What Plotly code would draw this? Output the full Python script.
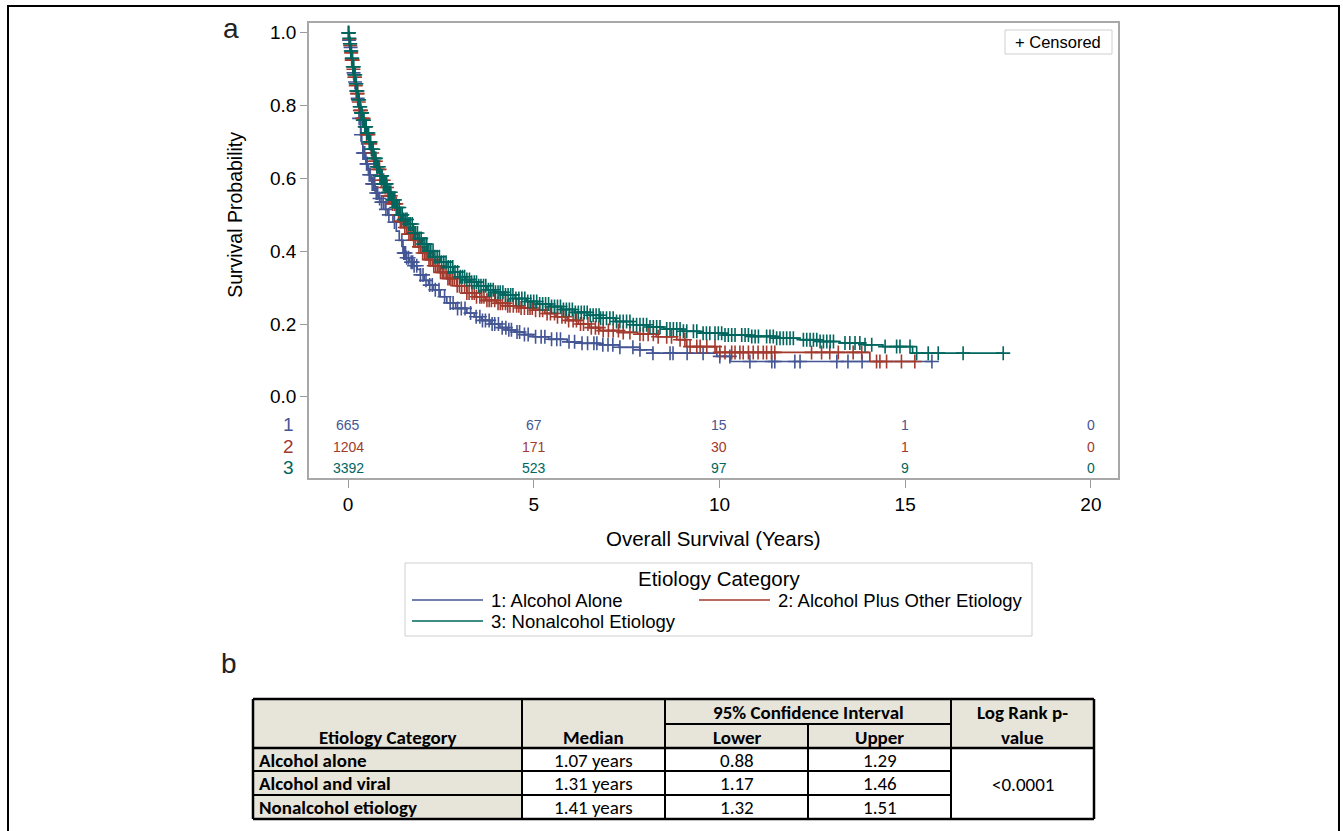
import numpy as np
import plotly.graph_objects as go

# ---------------- data ----------------
groups = ["1", "2", "3"]
group_names = ["1: Alcohol Alone", "2: Alcohol Plus Other Etiology", "3: Nonalcohol Etiology"]
colors = ["#445694", "#A23A2E", "#01665E"]

# Kaplan-Meier step points (years, survival probability)
t1 = [0, 0.025, 0.05, 0.09, 0.13, 0.17, 0.2, 0.24, 0.27, 0.3, 0.34, 0.37, 0.4, 0.48, 0.55, 0.64, 0.73,
      0.82, 0.9, 1.0, 1.07, 1.21, 1.3, 1.38, 1.48, 1.56, 1.65, 1.75, 1.86, 1.95, 2.05, 2.17, 2.29, 2.48,
      2.66, 2.9, 3.2, 3.4, 3.6, 3.85, 4.09, 4.3, 4.5, 4.75, 4.98, 5.4, 5.9, 6.3, 6.78, 7.3, 7.86, 8.2,
      9.93, 10.3, 15.75]
s1 = [1.0, 0.98, 0.96, 0.925, 0.89, 0.865, 0.84, 0.82, 0.80, 0.765, 0.72, 0.695, 0.67, 0.64, 0.61,
      0.585, 0.56, 0.545, 0.535, 0.515, 0.50, 0.48, 0.455, 0.43, 0.395, 0.382, 0.37, 0.36, 0.35, 0.335,
      0.32, 0.307, 0.294, 0.275, 0.258, 0.243, 0.23, 0.22, 0.21, 0.20, 0.19, 0.184, 0.178, 0.171, 0.165,
      0.158, 0.151, 0.147, 0.143, 0.136, 0.129, 0.12, 0.111, 0.097, 0.097]

t2 = [0, 0.025, 0.05, 0.075, 0.1, 0.13, 0.16, 0.2, 0.23, 0.27, 0.32, 0.38, 0.44, 0.5, 0.56, 0.63, 0.7,
      0.77, 0.9, 1.0, 1.09, 1.18, 1.31, 1.4, 1.5, 1.62, 1.75, 1.88, 2.0, 2.15, 2.3, 2.48, 2.66, 2.93, 3.2,
      3.45, 3.7, 4.0, 4.3, 4.65, 4.98, 5.3, 5.6, 5.9, 6.2, 6.5, 6.78, 7.3, 7.8, 8.3, 8.85, 9.12, 9.92,
      14.05, 15.3]
s2 = [1.0, 0.983, 0.965, 0.945, 0.925, 0.90, 0.878, 0.855, 0.833, 0.81, 0.787, 0.765, 0.742, 0.72,
      0.695, 0.67, 0.647, 0.625, 0.595, 0.575, 0.552, 0.53, 0.50, 0.482, 0.465, 0.447, 0.43, 0.412,
      0.395, 0.377, 0.36, 0.342, 0.325, 0.305, 0.285, 0.275, 0.265, 0.257, 0.25, 0.244, 0.238, 0.229,
      0.22, 0.21, 0.20, 0.19, 0.182, 0.177, 0.172, 0.165, 0.157, 0.138, 0.122, 0.097, 0.097]

t3 = [0, 0.025, 0.05, 0.075, 0.1, 0.13, 0.16, 0.2, 0.23, 0.27, 0.31, 0.35, 0.4, 0.45, 0.5, 0.56, 0.63,
      0.7, 0.77, 0.86, 0.95, 1.06, 1.18, 1.3, 1.41, 1.5, 1.6, 1.76, 1.88, 2.0, 2.15, 2.3, 2.48, 2.66, 2.83,
      3.0, 3.15, 3.3, 3.5, 3.74, 3.95, 4.2, 4.5, 4.8, 5.1, 5.44, 5.75, 6.1, 6.45, 6.78, 7.2, 7.68, 8.1,
      8.5, 9.0, 9.47, 10.1, 10.82, 11.5, 12.17, 12.7, 13.24, 13.9, 14.4, 15.2, 17.64]
s3 = [1.0, 0.985, 0.97, 0.95, 0.93, 0.907, 0.885, 0.86, 0.84, 0.816, 0.797, 0.78, 0.76, 0.742, 0.725,
      0.70, 0.68, 0.655, 0.632, 0.607, 0.585, 0.562, 0.541, 0.52, 0.50, 0.487, 0.475, 0.45, 0.435, 0.42,
      0.40, 0.385, 0.37, 0.357, 0.343, 0.33, 0.322, 0.315, 0.305, 0.294, 0.287, 0.28, 0.27, 0.262, 0.255,
      0.248, 0.24, 0.232, 0.224, 0.216, 0.207, 0.198, 0.192, 0.186, 0.18, 0.175, 0.17, 0.166, 0.161,
      0.157, 0.152, 0.148, 0.143, 0.138, 0.12, 0.12]

# censoring times (years)
c1 = [0.03, 0.07, 0.11, 0.15, 0.19, 0.22, 0.26, 0.3, 0.35, 0.4, 0.43, 0.45, 0.5, 0.52, 0.57, 0.6, 0.65,
      0.68, 0.72, 0.76, 0.8, 0.85, 0.9, 0.95, 1.02, 1.1, 1.25, 1.45, 1.5, 1.52, 1.55, 1.58, 1.63, 1.7,
      1.74, 1.78, 1.85, 1.95, 2.02, 2.1, 2.2, 2.27, 2.35, 2.45, 2.6, 2.75, 2.83, 2.95, 3.05, 3.15, 3.3,
      3.45, 3.55, 3.62, 3.7, 3.8, 3.88, 3.95, 4.05, 4.15, 4.25, 4.33, 4.4, 4.55, 4.62, 4.75, 4.85, 5.05,
      5.2, 5.3, 5.48, 5.62, 5.72, 5.95, 6.1, 6.3, 6.45, 6.62, 6.7, 6.86, 7.0, 7.13, 7.32, 7.67, 7.86, 8.21,
      8.67, 8.75, 9.13, 9.56, 10.01, 10.28, 10.82, 11.41, 11.49, 12.03, 12.17, 13.16, 13.46, 13.84, 15.72]
c2 = [0.015, 0.04, 0.06, 0.085, 0.1, 0.125, 0.145, 0.17, 0.19, 0.21, 0.24, 0.26, 0.29, 0.32, 0.35, 0.38,
      0.42, 0.46, 0.5, 0.55, 0.6, 0.65, 0.7, 0.75, 0.8, 0.85, 0.9, 0.96, 1.0, 1.05, 1.1, 1.15, 1.2, 1.25,
      1.3, 1.36, 1.41, 1.44, 1.49, 1.53, 1.58, 1.64, 1.68, 1.72, 1.77, 1.81, 1.87, 1.91, 1.96, 2.01, 2.06,
      2.1, 2.13, 2.18, 2.22, 2.27, 2.31, 2.36, 2.41, 2.45, 2.49, 2.54, 2.58, 2.64, 2.69, 2.73, 2.77, 2.82,
      2.87, 2.94, 3.0, 3.06, 3.14, 3.2, 3.26, 3.34, 3.4, 3.46, 3.55, 3.6, 3.66, 3.74, 3.8, 3.86, 3.95,
      4.04, 4.1, 4.16, 4.24, 4.3, 4.36, 4.45, 4.54, 4.6, 4.66, 4.75, 4.84, 4.9, 4.96, 5.05, 5.16, 5.24,
      5.36, 5.45, 5.56, 5.64, 5.76, 5.85, 5.94, 6.06, 6.15, 6.26, 6.34, 6.46, 6.55, 6.66, 6.75, 6.87, 7.01,
      7.14, 7.28, 7.41, 7.59, 7.86, 7.95, 8.08, 8.22, 8.35, 8.58, 8.71, 8.94, 9.07, 9.21, 9.39, 9.48, 9.66,
      9.88, 10.01, 10.15, 10.33, 10.42, 10.55, 10.64, 10.78, 10.91, 11.04, 11.18, 11.27, 11.40, 11.49,
      12.48, 12.75, 12.97, 13.20, 13.60, 13.83, 14.23, 14.32, 14.50, 14.90, 15.26]
c3 = [0.01, 0.02, 0.035, 0.05, 0.06, 0.075, 0.09, 0.1, 0.115, 0.13, 0.14, 0.155, 0.17, 0.18, 0.195, 0.21,
      0.225, 0.24, 0.255, 0.27, 0.285, 0.3, 0.315, 0.33, 0.35, 0.365, 0.38, 0.4, 0.415, 0.43, 0.45, 0.47,
      0.49, 0.51, 0.53, 0.55, 0.57, 0.59, 0.61, 0.63, 0.655, 0.68, 0.7, 0.725, 0.75, 0.775, 0.8, 0.83,
      0.86, 0.89, 0.92, 0.95, 0.98, 1.01, 1.04, 1.08, 1.11, 1.15, 1.19, 1.22, 1.26, 1.3, 1.34, 1.38, 1.42,
      1.46, 1.5, 1.55, 1.59, 1.64, 1.68, 1.73, 1.78, 1.82, 1.87, 1.92, 1.97, 2.02, 2.07, 2.12, 2.18, 2.23,
      2.29, 2.34, 2.4, 2.46, 2.52, 2.58, 2.64, 2.7, 2.76, 2.82, 2.88, 2.95, 3.02, 3.08, 3.14, 3.2, 3.27,
      3.33, 3.4, 3.46, 3.52, 3.58, 3.65, 3.71, 3.78, 3.84, 3.91, 3.97, 4.04, 4.1, 4.17, 4.24, 4.31, 4.38,
      4.44, 4.52, 4.6, 4.68, 4.76, 4.84, 4.92, 5.0, 5.08, 5.16, 5.24, 5.32, 5.4, 5.48, 5.56, 5.64, 5.72,
      5.8, 5.88, 5.96, 6.04, 6.12, 6.2, 6.28, 6.36, 6.44, 6.52, 6.6, 6.68, 6.76, 6.80, 6.87, 6.96, 7.05,
      7.14, 7.23, 7.32, 7.41, 7.50, 7.59, 7.68, 7.77, 7.86, 7.95, 8.04, 8.13, 8.22, 8.31, 8.40, 8.58, 8.67,
      8.76, 8.85, 8.94, 9.03, 9.12, 9.30, 9.39, 9.56, 9.65, 9.74, 9.88, 9.97, 10.06, 10.15, 10.24, 10.33,
      10.42, 10.60, 10.69, 10.78, 10.87, 10.96, 11.05, 11.27, 11.36, 11.45, 11.54, 11.63, 11.72, 11.81,
      11.90, 11.99, 12.26, 12.35, 12.44, 12.53, 12.62, 12.71, 12.80, 12.89, 12.98, 13.07, 13.38, 13.51,
      13.65, 13.78, 13.92, 14.10, 14.46, 14.77, 14.86, 15.13, 15.31, 15.62, 15.89, 16.56, 17.64]

# numbers at risk
risk_times = [0, 5, 10, 15, 20]
risk1 = [665, 67, 15, 1, 0]
risk2 = [1204, 171, 30, 1, 0]
risk3 = [3392, 523, 97, 9, 0]

x_ticks = [0, 5, 10, 15, 20]
y_ticks = [0.0, 0.2, 0.4, 0.6, 0.8, 1.0]

# summary table (panel b)
tbl_category = ["Alcohol alone", "Alcohol and viral", "Nonalcohol etiology"]
tbl_median = ["1.07 years", "1.31 years", "1.41 years"]
tbl_lower = ["0.88", "1.17", "1.32"]
tbl_upper = ["1.29", "1.46", "1.51"]
tbl_pvalue = "<0.0001"

# ---------------- layout helpers ----------------
W, H = 1343, 831
def PX(x):
    return x / W
def PY(y):
    return 1 - y / H

FONT = "Liberation Sans, Arial, sans-serif"
TFONT = "Carlito, Calibri, Lato, sans-serif"

fig = go.Figure()

curves = [(t1, s1, c1), (t2, s2, c2), (t3, s3, c3)]
for (t, s, c), col, name in zip(curves, colors, group_names):
    fig.add_trace(go.Scatter(x=t, y=s, mode="lines", line=dict(color=col, width=1.7, shape="hv"),
                             name=name, showlegend=False, hoverinfo="skip"))
    t_arr = np.array(t)
    s_arr = np.array(s)
    idx = np.searchsorted(t_arr, np.array(c), side="right") - 1
    fig.add_trace(go.Scatter(x=c, y=s_arr[idx], mode="markers",
                             marker=dict(symbol="cross-thin", size=10, line=dict(color=col, width=1.6)),
                             showlegend=False, hoverinfo="skip"))

annotations = []
shapes = []

def ann(x, y, text, xref="paper", yref="paper", size=17, color="black", family=FONT,
        xanchor="center", yanchor="middle", **kw):
    annotations.append(dict(x=x, y=y, xref=xref, yref=yref, text=text, showarrow=False,
                            xanchor=xanchor, yanchor=yanchor,
                            font=dict(family=family, size=size, color=color), **kw))

# at-risk rows
risk_rows = [risk1, risk2, risk3]
risk_y = [-0.077, -0.137, -0.195]
for g, row, ry, col in zip(groups, risk_rows, risk_y, colors):
    for tt, n in zip(risk_times, row):
        ann(tt, ry, str(n), xref="x", yref="y", size=14, color=col, family=FONT)
    ann(PX(288), ry, g, yref="y", size=19, color=col)

# axis titles and panel letters
ann(PX(235), 0.5, "Survival Probability", yref="y", size=19.5, textangle=-90)
ann(PX(714), PY(538), "Overall Survival (Years)", size=20.5)
ann(PX(231), PY(29), "a", size=28, color="#222")
ann(PX(229), PY(663), "b", size=28, color="#222")

# censored legend box
shapes.append(dict(type="rect", xref="paper", yref="paper", x0=PX(1005), x1=PX(1112), y0=PY(30), y1=PY(54),
                   line=dict(color="#cfcfcf", width=1), fillcolor="white"))
ann(PX(1058), PY(42), "+ Censored", size=16.5)

# bottom legend
shapes.append(dict(type="rect", xref="paper", yref="paper", x0=PX(405), x1=PX(1032), y0=PY(563), y1=PY(636),
                   line=dict(color="#cfcfcf", width=1)))
ann(PX(719), PY(578), "Etiology Category", size=20.5)
leg_pos = [(412, 600), (699, 600), (412, 621)]
for (lx, ly), col, name in zip(leg_pos, colors, group_names):
    shapes.append(dict(type="line", xref="paper", yref="paper", x0=PX(lx), x1=PX(lx + 71), y0=PY(ly), y1=PY(ly),
                       line=dict(color=col, width=1.6)))
    ann(PX(lx + 77), PY(ly), name, size=18.5, xanchor="left")

# outer frame
shapes.append(dict(type="rect", xref="paper", yref="paper", x0=PX(8), x1=PX(1339), y0=PY(845), y1=PY(6),
                   line=dict(color="black", width=2)))

# ---------------- table (panel b) ----------------
cx = [253, 522, 665, 808, 951, 1094]
ry_ = [699, 724, 748, 771, 795, 819]
beige = "#E7E4DA"
shapes.append(dict(type="rect", xref="paper", yref="paper", x0=PX(cx[0]), x1=PX(cx[5]), y0=PY(ry_[2]), y1=PY(ry_[0]),
                   fillcolor=beige, line=dict(width=0), layer="below"))
shapes.append(dict(type="rect", xref="paper", yref="paper", x0=PX(cx[0]), x1=PX(cx[1]), y0=PY(ry_[5]), y1=PY(ry_[2]),
                   fillcolor=beige, line=dict(width=0), layer="below"))
def hline(y, xa, xb, w=2):
    shapes.append(dict(type="line", xref="paper", yref="paper", x0=PX(xa), x1=PX(xb), y0=PY(y), y1=PY(y),
                       line=dict(color="black", width=w)))
def vline(x, ya, yb, w=2):
    shapes.append(dict(type="line", xref="paper", yref="paper", x0=PX(x), x1=PX(x), y0=PY(ya), y1=PY(yb),
                       line=dict(color="black", width=w)))
hline(ry_[0], cx[0], cx[5], 2.5)
hline(ry_[1], cx[2], cx[4])
hline(ry_[2], cx[0], cx[5], 2.5)
hline(ry_[3], cx[0], cx[4])
hline(ry_[4], cx[0], cx[4])
hline(ry_[5], cx[0], cx[5], 2.5)
for x in [cx[0], cx[1], cx[2], cx[4], cx[5]]:
    vline(x, ry_[0], ry_[5], 2.5 if x in (cx[0], cx[5]) else 2)
vline(cx[3], ry_[1], ry_[5])

def ttext(x, y, s, bold=True, anchor="center"):
    ann(PX(x), PY(y), ("<b>%s</b>" % s) if bold else s, size=19, family=TFONT, xanchor=anchor)

ttext((cx[0] + cx[1]) / 2, 737, "Etiology Category")
ttext((cx[1] + cx[2]) / 2, 737, "Median")
ttext((cx[2] + cx[4]) / 2, 712, "95% Confidence Interval")
ttext((cx[2] + cx[3]) / 2, 737, "Lower")
ttext((cx[3] + cx[4]) / 2, 737, "Upper")
ttext((cx[4] + cx[5]) / 2, 712, "Log Rank p-")
ttext((cx[4] + cx[5]) / 2, 737, "value")
for i in range(3):
    yc = (ry_[2 + i] + ry_[3 + i]) / 2 + 0.5
    ttext(cx[0] + 4, yc, tbl_category[i], True, "left")
    ttext((cx[1] + cx[2]) / 2, yc, tbl_median[i], False)
    ttext((cx[2] + cx[3]) / 2, yc, tbl_lower[i], False)
    ttext((cx[3] + cx[4]) / 2, yc, tbl_upper[i], False)
ttext((cx[4] + cx[5]) / 2, (ry_[2] + ry_[5]) / 2 + 1, tbl_pvalue, False)

fig.update_layout(
    width=W, height=H, margin=dict(l=0, r=0, t=0, b=0),
    paper_bgcolor="white", plot_bgcolor="white",
    font=dict(family=FONT, size=17, color="black"),
    xaxis=dict(domain=[PX(309), PX(1118)], range=[-1.05, 20.73], tickvals=x_ticks,
               ticks="outside", ticklen=8, tickcolor="#9a9a9a", tickwidth=1,
               showline=True, linecolor="#a8a8a8", linewidth=1.5, mirror=True,
               showgrid=False, zeroline=False, tickfont=dict(size=19, family=FONT)),
    yaxis=dict(domain=[PY(478), PY(23)], range=[-0.223, 1.027], tickvals=y_ticks,
               ticktext=["%.1f" % v for v in y_ticks],
               ticks="outside", ticklen=7, tickcolor="#9a9a9a", tickwidth=1,
               showline=True, linecolor="#a8a8a8", linewidth=1.5, mirror=True,
               showgrid=False, zeroline=False, tickfont=dict(size=19, family=FONT)),
    annotations=annotations, shapes=shapes, showlegend=False,
)

fig.write_html("out.html", config={"displayModeBar": False},
               post_script="document.body.style.margin='0';")
